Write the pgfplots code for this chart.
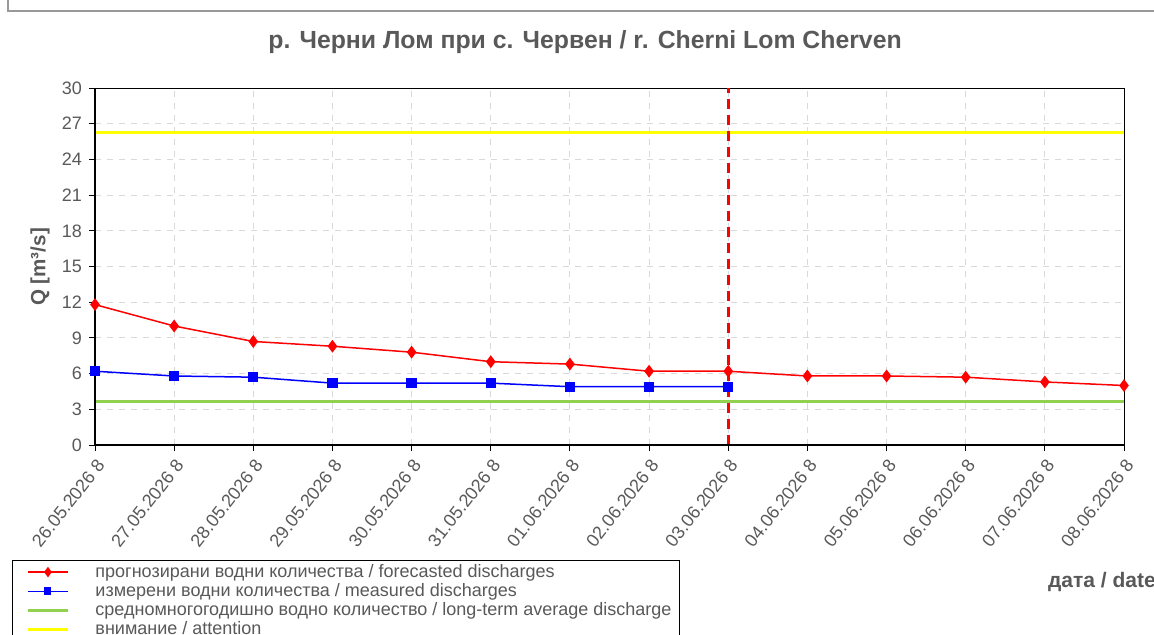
\documentclass[border=0pt]{standalone}
\usepackage{fontspec}
\setmainfont{Liberation Sans}
\usepackage{pgfplots}
\pgfplotsset{compat=1.18}
\definecolor{txt}{HTML}{595959}
\definecolor{fcast}{HTML}{FF0000}
\definecolor{meas}{HTML}{0000FF}
\definecolor{avg}{HTML}{92D050}
\definecolor{attn}{HTML}{FFFF00}
\definecolor{gridc}{HTML}{D9D9D9}

\begin{document}
\begin{tikzpicture}[x=0.5pt,y=0.5pt]
\useasboundingbox (0,0) rectangle (1154,634);
\clip (0,0) rectangle (1154,634);
% outer chart frame (only top and left edges are visible)
\draw[gray!80, line width=1.1pt] (8,640) -- (8,623) -- (1160,623);

\node[font=\fontsize{12.4}{14}\selectfont\bfseries, text=txt] at (585,592)
  {р. Черни Лом при с. Червен / r. Cherni Lom Cherven};
\node[font=\fontsize{10.3}{12}\selectfont\bfseries, text=txt, rotate=90] at (40,367)
  {Q [m³/s]};
\node[font=\fontsize{10.5}{12}\selectfont\bfseries, text=txt, anchor=base west] at (1041,47)
  {дата / date};

\begin{axis}[
  at={(47.5pt,94.5pt)}, anchor=south west,
  scale only axis, width=514.5pt, height=178.5pt,
  xmin=0, xmax=13, ymin=0, ymax=30,
  ytick={0,3,...,30},
  xtick={0,...,13},
  xticklabels={26.05.2026 8,27.05.2026 8,28.05.2026 8,29.05.2026 8,30.05.2026 8,
    31.05.2026 8,01.06.2026 8,02.06.2026 8,03.06.2026 8,04.06.2026 8,
    05.06.2026 8,06.06.2026 8,07.06.2026 8,08.06.2026 8},
  xticklabel style={rotate=52, anchor=east, xshift=1pt, yshift=-5.5pt},
  ticklabel style={font=\fontsize{9}{10}\selectfont, text=txt},
  /pgf/number format/assume math mode=true,
  tick align=outside, tick pos=left,
  major tick length=3pt,
  tick style={black, line width=0.5pt},
  axis line style={black, line width=0.5pt},
  grid=major,
  grid style={dashed, gridc, line width=0.5pt},
  clip=false,
  legend style={
    at={(-0.0807,-0.322)}, anchor=north west,
    draw=black, line width=0.5pt,
    font=\fontsize{9}{10}\selectfont, text=txt,
    cells={anchor=west}, inner xsep=2pt, inner ysep=1pt,
    nodes={inner ysep=0.8pt},
    row sep=0pt,
  },
]
% legend entries, in the reference's order
\addlegendimage{legend image code/.code={
  \path (0pt,0pt) (37pt,0pt);
  \draw[fcast, line width=0.75pt] (5.5pt,0pt) -- (25.5pt,0pt);
  \fill[fcast] (15.5pt,2.2pt) -- (17.1pt,0pt) -- (15.5pt,-2.2pt) -- (13.9pt,0pt) -- cycle;}}
\addlegendentry{прогнозирани  водни количества / forecasted discharges}
\addlegendimage{legend image code/.code={
  \path (0pt,0pt) (37pt,0pt);
  \draw[meas, line width=0.75pt] (5.5pt,0pt) -- (25.5pt,0pt);
  \fill[meas] (14pt,-1.8pt) rectangle (17pt,1.8pt);}}
\addlegendentry{измерени водни количества / measured discharges}
\addlegendimage{legend image code/.code={
  \path (0pt,0pt) (37pt,0pt);
  \draw[avg, line width=1.5pt] (5.5pt,0pt) -- (25.5pt,0pt);}}
\addlegendentry{средномногогодишно  водно количество / long-term average discharge}
\addlegendimage{legend image code/.code={
  \path (0pt,0pt) (37pt,0pt);
  \draw[attn, line width=1.5pt] (5.5pt,0pt) -- (25.5pt,0pt);}}
\addlegendentry{внимание / attention}

% attention level
\addplot[attn, line width=1.5pt, forget plot] coordinates {(0,26.3) (13,26.3)};
% long-term average
\addplot[avg, line width=1.5pt, forget plot] coordinates {(0,3.67) (13,3.67)};
% current date marker
\addplot[fcast, line width=1.5pt, dash pattern=on 5pt off 3pt, forget plot]
  coordinates {(8,0) (8,30)};
% forecast
\addplot[fcast, line width=0.75pt, mark=diamond*, mark size=2.6pt,
  mark options={fill=fcast}, forget plot] coordinates {
  (0,11.8) (1,10.0) (2,8.7) (3,8.3) (4,7.8) (5,7.0) (6,6.8)
  (7,6.2) (8,6.2) (9,5.8) (10,5.8) (11,5.7) (12,5.3) (13,5.0)
};
% measured
\addplot[meas, line width=0.75pt, mark=square*, mark size=2.2pt,
  mark options={fill=meas}, forget plot] coordinates {
  (0,6.2) (1,5.8) (2,5.7) (3,5.2) (4,5.2) (5,5.2) (6,4.9) (7,4.9) (8,4.9)
};
% heavier bottom and left axis lines
\draw[black, line width=1pt] (rel axis cs:0,1) -- (rel axis cs:0,0) -- (rel axis cs:1,0);
\end{axis}
\end{tikzpicture}
\end{document}
